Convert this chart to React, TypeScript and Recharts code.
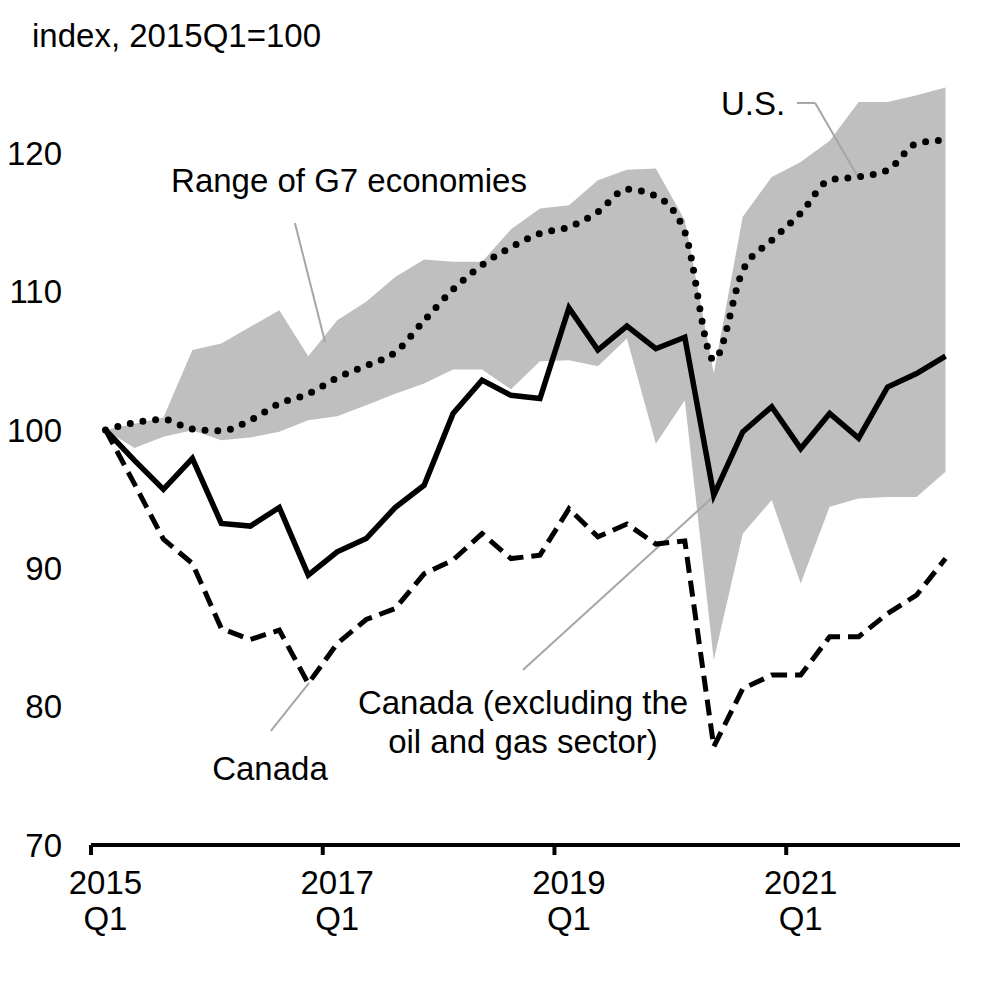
import React from "react";
import {
  ComposedChart,
  Area,
  Line,
  XAxis,
  YAxis,
  ReferenceLine,
} from "recharts";

// ---------- data ----------
const QUARTERS = [
  "2015Q1", "2015Q2", "2015Q3", "2015Q4",
  "2016Q1", "2016Q2", "2016Q3", "2016Q4",
  "2017Q1", "2017Q2", "2017Q3", "2017Q4",
  "2018Q1", "2018Q2", "2018Q3", "2018Q4",
  "2019Q1", "2019Q2", "2019Q3", "2019Q4",
  "2020Q1", "2020Q2", "2020Q3", "2020Q4",
  "2021Q1", "2021Q2", "2021Q3", "2021Q4",
  "2022Q1", "2022Q2",
];

const CANADA_EX_OG = [
  100, 97.8, 95.7, 97.94, 93.24, 93.05, 94.39, 89.5, 91.19, 92.15,
  94.39, 96.0, 101.19, 103.6, 102.5, 102.27, 108.82, 105.77, 107.5, 105.87,
  106.7, 95.29, 99.86, 101.67, 98.65, 101.19, 99.4, 103.1, 104.07, 105.33,
];

const CANADA = [
  100, 96.1, 92.1, 90.35, 85.65, 84.85, 85.53, 81.67, 84.56, 86.3,
  87.09, 89.6, 90.6, 92.5, 90.7, 90.95, 94.3, 92.27, 93.2, 91.75,
  91.98, 77.1, 81.3, 82.28, 82.28, 85.05, 85.05, 86.73, 88.06, 90.71,
];

const US = [
  100, 100.52, 100.76, 100.06, 99.94, 100.7, 101.9, 102.6, 103.77, 104.64,
  105.6, 107.9, 110.15, 111.92, 113.2, 114.2, 114.67, 115.76, 117.4, 116.9,
  114.3, 105.04, 111.5, 113.7, 115.66, 118.05, 118.3, 118.77, 120.7, 120.94,
];

const G7_LOW = [
  100, 98.7, 99.5, 99.98, 99.26, 99.45, 99.86, 100.7, 100.99, 101.79,
  102.62, 103.35, 104.36, 104.36, 102.93, 104.97, 105.04, 104.6, 106.6, 99.0,
  102.15, 83.37, 92.5, 94.93, 88.9, 94.45, 95.04, 95.16, 95.16, 96.97,
];

const G7_HIGH = [
  100, 100.45, 100.9, 105.77, 106.25, 107.45, 108.65, 105.33, 107.93, 109.26,
  111.06, 112.32, 112.15, 112.15, 114.5, 116.0, 116.24, 118.05, 118.8, 118.9,
  115.16, 104.1, 115.4, 118.28, 119.37, 120.9, 123.7, 123.7, 124.19, 124.74,
];

const Y_TICKS = [70, 80, 90, 100, 110, 120];
const X_TICKS = [0, 8, 16, 24];
const X_TICK_YEARS = ["2015", "2017", "2019", "2021"];
const X_TICK_QUARTER = "Q1";

// leader lines (data coordinates: x in quarters from 2015Q1 start, y index)
const LEADERS = [
  [{ x: 7.04, y: 114.95 }, { x: 8.08, y: 106.35 }],
  [{ x: 24.37, y: 123.63 }, { x: 25.0, y: 123.63 }],
  [{ x: 25.0, y: 123.63 }, { x: 26.48, y: 118.28 }],
  [{ x: 6.21, y: 78.24 }, { x: 7.53, y: 81.71 }],
  [{ x: 14.91, y: 82.65 }, { x: 21.47, y: 95.15 }],
];

const data = QUARTERS.map((q, i) => ({
  q,
  x: i + 0.5,
  exog: CANADA_EX_OG[i],
  canada: CANADA[i],
  us: US[i],
  g7: [G7_LOW[i], G7_HIGH[i]],
}));

// ---------- layout ----------
const W = 999;
const H = 990;
const M = { top: 76, right: 47, bottom: 53, left: 0 };
const Y_AXIS_W = 83;
const PLOT_W = W - M.right - Y_AXIS_W;
const HALF_BAND = PLOT_W / QUARTERS.length / 2;
const FONT = "'Liberation Sans', Arial, Helvetica, sans-serif";
const FS = 33;

const XTick = (props: any) => {
  const { x, y, payload } = props;
  const idx = X_TICKS.indexOf(payload.value);
  return (
    <text
      x={x + HALF_BAND}
      y={y}
      textAnchor="middle"
      fontFamily={FONT}
      fontSize={FS}
      fill="#000"
    >
      <tspan x={x + HALF_BAND} dy={37}>
        {X_TICK_YEARS[idx]}
      </tspan>
      <tspan x={x + HALF_BAND} dy={36}>
        {X_TICK_QUARTER}
      </tspan>
    </text>
  );
};

export default function App() {
  return (
    <div style={{ position: "relative", width: W, height: H }}>
      <ComposedChart width={W} height={H} data={data} margin={M}>
        <XAxis
          dataKey="x"
          type="number"
          domain={[0, 30]}
          ticks={X_TICKS}
          interval={0}
          allowDataOverflow
          axisLine={{ stroke: "#000", strokeWidth: 4 }}
          tickLine={{ stroke: "#000", strokeWidth: 4 }}
          tickSize={10}
          tickMargin={2}
          height={100}
          tick={<XTick />}
        />
        <YAxis
          type="number"
          domain={[70, 125]}
          ticks={Y_TICKS}
          interval={0}
          allowDataOverflow
          axisLine={false}
          tickLine={false}
          tickSize={0}
          tickMargin={29}
          width={Y_AXIS_W}
          tick={{ fill: "#000", fontSize: FS, fontFamily: FONT }}
        />
        <Area
          dataKey="g7"
          type="linear"
          stroke="none"
          fill="#BFBFBF"
          fillOpacity={1}
          isAnimationActive={false}
          dot={false}
          activeDot={false}
        />
        {LEADERS.map((seg, i) => (
          <ReferenceLine
            key={i}
            segment={seg}
            stroke="#A6A6A6"
            strokeWidth={2}
            ifOverflow="visible"
          />
        ))}
        <Line
          dataKey="us"
          type="monotone"
          stroke="#000"
          strokeWidth={7}
          strokeDasharray="0 12.8"
          strokeLinecap="round"
          dot={false}
          activeDot={false}
          isAnimationActive={false}
        />
        <Line
          dataKey="canada"
          type="linear"
          stroke="#000"
          strokeWidth={5}
          strokeDasharray="16 8"
          dot={false}
          activeDot={false}
          isAnimationActive={false}
        />
        <Line
          dataKey="exog"
          type="linear"
          stroke="#000"
          strokeWidth={5.5}
          dot={false}
          activeDot={false}
          isAnimationActive={false}
        />
      </ComposedChart>
      <svg
        width={W}
        height={H}
        style={{ position: "absolute", left: 0, top: 0, pointerEvents: "none" }}
      >
        <g fontFamily={FONT} fontSize={FS} fill="#000">
          <text x={24} y={39}>index, 2015Q1=100</text>
          <text x={341} y={184} textAnchor="middle">Range of G7 economies</text>
          <text x={713} y={107}>U.S.</text>
          <text x={262} y={772} textAnchor="middle">Canada</text>
          <text x={515} y={706} textAnchor="middle">Canada (excluding the</text>
          <text x={515} y={745} textAnchor="middle">oil and gas sector)</text>
        </g>
      </svg>
    </div>
  );
}
